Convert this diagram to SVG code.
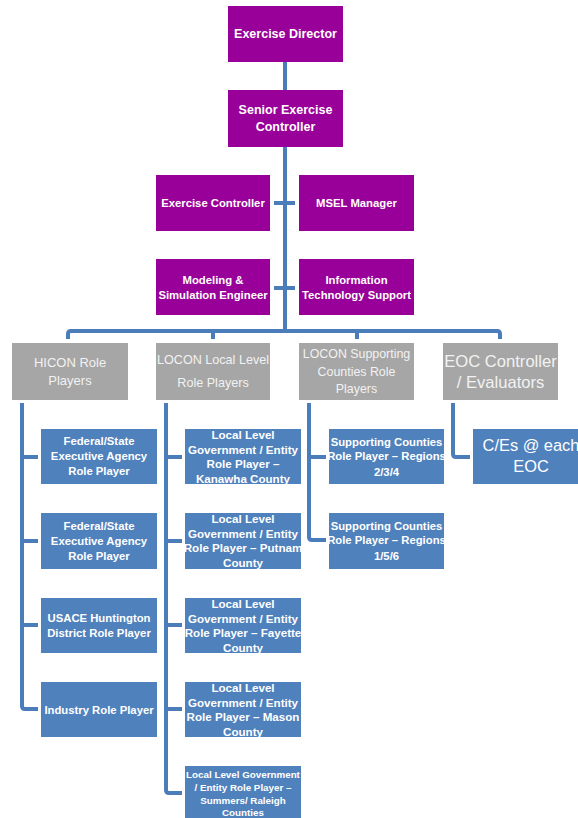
<svg xmlns="http://www.w3.org/2000/svg" width="578" height="818" viewBox="0 0 578 818">
<style>
.p{fill:#990099}
.g{fill:#A6A6A6}
.b{fill:#4F81BD}
.t{font-family:"Liberation Sans",Arial,sans-serif;font-weight:bold;fill:#fff;text-anchor:middle;dominant-baseline:central}
.s11{font-size:11.3px}
.s115{font-size:11.6px}
.s10{font-size:9.8px}
.s12{font-size:12.5px}
.gt{font-family:"Liberation Sans",Arial,sans-serif;fill:#F2F2F2;text-anchor:middle;dominant-baseline:central}
.c{fill:none;stroke:#4A7DBA;stroke-width:4;stroke-linejoin:round}
</style>
<rect width="578" height="818" fill="#fff"/>
<g id="connectors">
<path class="c" d="M285 62V90M285 147V331"/>
<path class="c" d="M274 203H295M274 288H295"/>
<path class="c" d="M68 339V334Q68 331 71 331H497Q500 331 500 334V339M213 331V339M357 331V339"/>
<path class="c" d="M22 403V706Q22 709 25 709H38M22 457H38M22 541H38M22 625H38"/>
<path class="c" d="M166 403V790Q166 793 169 793H182M166 457H182M166 541H182M166 625H182M166 709H182"/>
<path class="c" d="M309 403V537Q309 540 312 540H326M309 457H326"/>
<path class="c" d="M453 403V454Q453 457 456 457H470"/>
</g>
<g id="exercise-director"><rect class="p" x="228" y="6" width="115" height="56"/><text class="t s12" x="285.5" y="34">Exercise Director</text></g>
<g id="senior-exercise-controller"><rect class="p" x="228" y="90" width="115" height="57"/><text class="t s12" x="285.5" y="110">Senior Exercise</text><text class="t s12" x="285.5" y="127">Controller</text></g>
<g id="exercise-controller"><rect class="p" x="156" y="175" width="114" height="56"/><text class="t s11" x="213" y="203">Exercise Controller</text></g>
<g id="msel-manager"><rect class="p" x="299" y="175" width="115" height="56"/><text class="t s11" x="356.5" y="203">MSEL Manager</text></g>
<g id="modeling-simulation"><rect class="p" x="156" y="259" width="114" height="56"/><text class="t s11" x="213" y="279.5">Modeling &amp;</text><text class="t s11" x="213" y="295">Simulation Engineer</text></g>
<g id="information-technology"><rect class="p" x="299" y="259" width="115" height="56"/><text class="t s11" x="356.5" y="279.5">Information</text><text class="t s11" x="356.5" y="295">Technology Support</text></g>
<g id="hicon"><rect class="g" x="12" y="343" width="116" height="57"/><text class="gt" font-size="13" x="70" y="362">HICON Role</text><text class="gt" font-size="13" x="70" y="380">Players</text></g>
<g id="locon-local"><rect class="g" x="156" y="343" width="114" height="57"/><text class="gt" font-size="12.6" x="213" y="360">LOCON Local Level</text><text class="gt" font-size="12.6" x="213" y="383">Role Players</text></g>
<g id="locon-supporting"><rect class="g" x="299" y="343" width="115" height="57"/><text class="gt" font-size="12.4" x="356.5" y="354">LOCON Supporting</text><text class="gt" font-size="12.4" x="356.5" y="371.5">Counties Role</text><text class="gt" font-size="12.4" x="356.5" y="388.5">Players</text></g>
<g id="eoc-controller"><rect class="g" x="443" y="343" width="115" height="57"/><text class="gt" font-size="16.6" x="500.5" y="361.5">EOC Controller</text><text class="gt" font-size="16.6" x="500.5" y="382.5">/ Evaluators</text></g>
<g id="fed1"><rect class="b" x="41" y="429" width="116" height="55"/><text class="t s11" x="99" y="441">Federal/State</text><text class="t s11" x="99" y="456">Executive Agency</text><text class="t s11" x="99" y="471">Role Player</text></g>
<g id="fed2"><rect class="b" x="41" y="513" width="116" height="56"/><text class="t s11" x="99" y="526">Federal/State</text><text class="t s11" x="99" y="541">Executive Agency</text><text class="t s11" x="99" y="556">Role Player</text></g>
<g id="usace"><rect class="b" x="41" y="598" width="116" height="55"/><text class="t s11" x="99" y="618">USACE Huntington</text><text class="t s11" x="99" y="633">District Role Player</text></g>
<g id="industry"><rect class="b" x="41" y="682" width="116" height="55"/><text class="t s11" x="99" y="709.5">Industry Role Player</text></g>
<g id="kanawha"><rect class="b" x="185" y="429" width="116" height="55"/><text class="t s115" x="243" y="434">Local Level</text><text class="t s115" x="243" y="449">Government / Entity</text><text class="t s115" x="243" y="463.5">Role Player –</text><text class="t s115" x="243" y="478.5">Kanawha County</text></g>
<g id="putnam"><rect class="b" x="185" y="513" width="116" height="56"/><text class="t s115" x="243" y="518">Local Level</text><text class="t s115" x="243" y="533">Government / Entity</text><text class="t s115" x="243" y="547.5">Role Player – Putnam</text><text class="t s115" x="243" y="562.5">County</text></g>
<g id="fayette"><rect class="b" x="185" y="598" width="116" height="55"/><text class="t s115" x="243" y="603">Local Level</text><text class="t s115" x="243" y="618">Government / Entity</text><text class="t s115" x="243" y="632.5">Role Player – Fayette</text><text class="t s115" x="243" y="647.5">County</text></g>
<g id="mason"><rect class="b" x="185" y="682" width="116" height="55"/><text class="t s115" x="243" y="687">Local Level</text><text class="t s115" x="243" y="702">Government / Entity</text><text class="t s115" x="243" y="716.5">Role Player – Mason</text><text class="t s115" x="243" y="731.5">County</text></g>
<g id="summers"><rect class="b" x="185" y="766" width="116" height="56"/><text class="t s10" x="243" y="774">Local Level Government</text><text class="t s10" x="243" y="787.5">/ Entity Role Player –</text><text class="t s10" x="243" y="800">Summers/ Raleigh</text><text class="t s10" x="243" y="812.5">Counties</text></g>
<g id="supp234"><rect class="b" x="329" y="429" width="115" height="55"/><text class="t s11" x="386.5" y="441.5">Supporting Counties</text><text class="t s11" x="386.5" y="456">Role Player – Regions</text><text class="t s11" x="386.5" y="471.5">2/3/4</text></g>
<g id="supp156"><rect class="b" x="329" y="513" width="115" height="56"/><text class="t s11" x="386.5" y="525.5">Supporting Counties</text><text class="t s11" x="386.5" y="540">Role Player – Regions</text><text class="t s11" x="386.5" y="555.5">1/5/6</text></g>
<g id="ces"><rect class="b" x="473" y="429" width="116" height="55"/><text class="gt" font-size="16.4" x="531" y="445" style="fill:#fff">C/Es @ each</text><text class="gt" font-size="16.4" x="531" y="466" style="fill:#fff">EOC</text></g>
</svg>
